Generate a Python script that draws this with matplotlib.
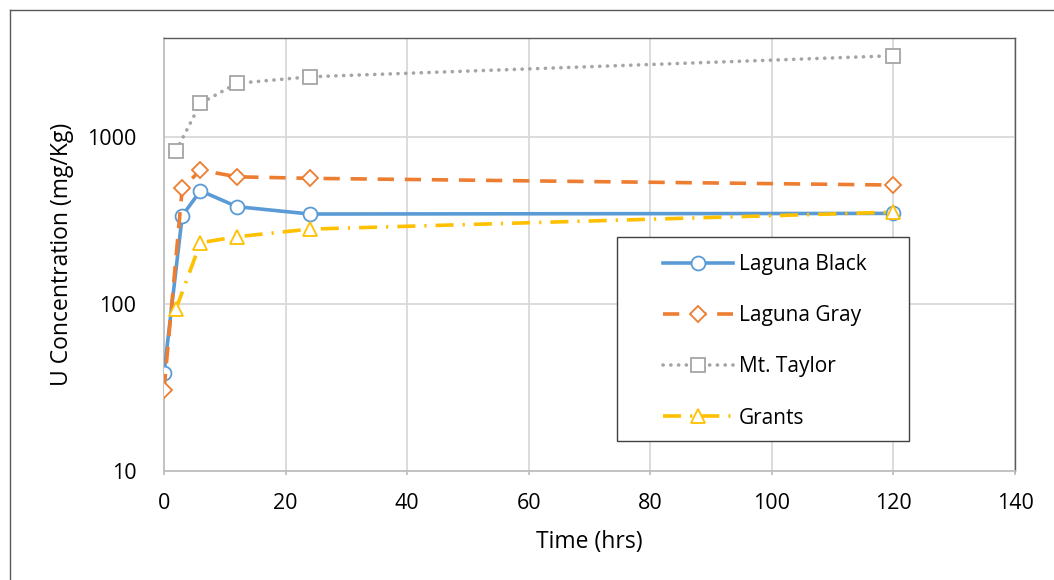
import matplotlib
matplotlib.use("Agg")
import matplotlib.pyplot as plt
from matplotlib.lines import Line2D
from matplotlib.patches import Rectangle

plt.rcParams['font.family'] = ['Open Sans', 'DejaVu Sans']

lb_x = [0, 3, 6, 12, 24, 120]
lb_y = [38.5, 338, 477, 383, 346, 349]
lg_x = [0, 3, 6, 12, 24, 120]
lg_y = [30.5, 493, 634, 578, 566, 516]
mt_x = [2, 6, 12, 24, 120]
mt_y = [828, 1592, 2099, 2296, 3070]
gr_x = [2, 6, 12, 24, 120]
gr_y = [94, 233, 253, 281, 355]

x_ticks = [0, 20, 40, 60, 80, 100, 120, 140]
y_ticks = [10, 100, 1000]

W, H = 1054, 580
L, R, T, B = 164, 1015, 38, 471
fig = plt.figure(figsize=(W / 100, H / 100), dpi=100)
ax = fig.add_axes([L / W, 1 - B / H, (R - L) / W, (B - T) / H])

ms_kw = dict(markerfacecolor='white', markeredgewidth=1.3)
ax.plot(lb_x, lb_y, color='#5B9BD5', lw=2.6, marker='o', markersize=10,
        markeredgecolor='#5B9BD5', label='Laguna Black', zorder=4, **ms_kw)
ax.plot(lg_x, lg_y, color='#ED7D31', lw=2.6, dashes=(4.5, 3), marker='D', markersize=8,
        markeredgecolor='#ED7D31', label='Laguna Gray', zorder=4, **ms_kw)
ax.plot(mt_x, mt_y, color='#A5A5A5', lw=2.6, linestyle=(0, (0.05, 2.1)), dash_capstyle='round',
        marker='s', markersize=10, markeredgecolor='#A5A5A5', label='Mt. Taylor', zorder=4, **ms_kw)
ax.plot(gr_x, gr_y, color='#FFC000', lw=2.6, dashes=(5, 2.5, 0.6, 2.5), marker='^', markersize=10,
        markeredgecolor='#FFC000', label='Grants', zorder=4, **ms_kw)

ax.set_yscale('log')
ax.set_xlim(0, 140)
ax.set_ylim(10, 3920)
ax.set_xticks(x_ticks)
ax.set_xticklabels([str(t) for t in x_ticks])
ax.set_yticks(y_ticks)
ax.set_yticklabels([str(t) for t in y_ticks])
ax.yaxis.set_minor_locator(matplotlib.ticker.NullLocator())
ax.grid(True, which='major', color='#D9D9D9', lw=1.3)
ax.set_axisbelow(True)
ax.tick_params(axis='both', labelsize=15.5, colors='#BFBFBF', labelcolor='#000000', width=1.3)
ax.tick_params(axis='x', length=3, pad=12.5)
ax.tick_params(axis='y', length=0, pad=20)
for s in ['top', 'right']:
    ax.spines[s].set_color('#595959')
    ax.spines[s].set_linewidth(1.0)
for s in ['left', 'bottom']:
    ax.spines[s].set_color('#BFBFBF')
    ax.spines[s].set_linewidth(1.3)

ax.set_xlabel('Time (hrs)', fontsize=16.5, labelpad=12)
ax.set_ylabel('U Concentration (mg/Kg)', fontsize=16.5, labelpad=9)

# legend frame drawn as rectangle at exact place
lx0, lx1, ly0, ly1 = 617, 909, 237, 441
def ax_xy(px, py):
    return (px - L) / (R - L), 1 - (py - T) / (B - T)
x0a, y1a = ax_xy(lx0, ly0)
x1a, y0a = ax_xy(lx1, ly1)
ax.add_patch(Rectangle((x0a, y0a), x1a - x0a, y1a - y0a, transform=ax.transAxes,
                       facecolor='white', edgecolor='#404040', lw=1.0, zorder=5))
hx, hy = ax_xy(663, 254)
leg = ax.legend(loc='upper left', bbox_to_anchor=(hx, hy),
                fontsize=15, frameon=False, handlelength=3.35, labelspacing=1.45,
                borderpad=0, borderaxespad=0, handletextpad=0.3)
leg.set_zorder(6)

fig.add_artist(Line2D([10 / W, 10 / W], [0, 1 - 10 / H], color='#595959', lw=1.0))
fig.add_artist(Line2D([10 / W, 1], [1 - 10 / H, 1 - 10 / H], color='#595959', lw=1.0))

fig.savefig('out.png', dpi=100, facecolor='white')
